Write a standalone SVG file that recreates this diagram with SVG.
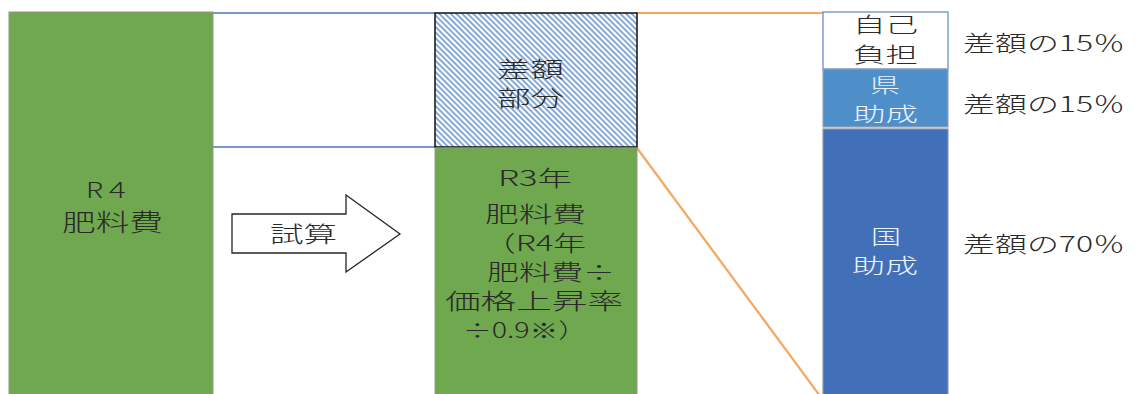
<svg xmlns="http://www.w3.org/2000/svg" width="1139" height="394" viewBox="0 0 1139 394">
<defs>
<pattern id="hatch" patternUnits="userSpaceOnUse" width="4" height="4" patternTransform="rotate(-45)">
<rect width="4" height="4" fill="#ffffff"/>
<rect width="2" height="4" fill="#86aad6"/>
</pattern>
<style>
.t{font-family:"Noto Sans CJK JP","Noto Sans",sans-serif;fill:#2a2a2a;font-weight:300}
.w{fill:#eaf1fa}
.green{fill:#70a850;stroke:#8c9a84;stroke-width:1}
</style>
</defs>
<rect width="1139" height="394" fill="#ffffff"/>
<g id="connectors" fill="none">
<line x1="213" y1="13" x2="435" y2="13" stroke="#4a74b8" stroke-width="1.5"/>
<line x1="213" y1="147" x2="435" y2="147" stroke="#4a74b8" stroke-width="1.5"/>
<line x1="637" y1="13" x2="823" y2="13" stroke="#f4a75e" stroke-width="2.2"/>
<line x1="637" y1="148" x2="820" y2="396" stroke="#f4a75e" stroke-width="2.2"/>
</g>
<g id="r4">
<rect class="green" x="9" y="12" width="204" height="390"/>
<text class="t" x="86" y="198" font-size="22" textLength="45" lengthAdjust="spacingAndGlyphs">R４</text>
<text class="t" x="62" y="231" font-size="24" textLength="101" lengthAdjust="spacingAndGlyphs">肥料費</text>
</g>
<g id="arrow">
<path d="M232,214 H346 V195 L400,234 L346,272 V253 H232 Z" fill="#ffffff" stroke="#262626" stroke-width="1.3"/>
<text class="t" x="270" y="242" font-size="22" textLength="67" lengthAdjust="spacingAndGlyphs">試算</text>
</g>
<g id="diff">
<rect x="435" y="13" width="202" height="134" fill="url(#hatch)" stroke="#111111" stroke-width="1.5"/>
<text class="t" x="497" y="77" font-size="22" textLength="67" lengthAdjust="spacingAndGlyphs">差額</text>
<text class="t" x="497" y="106" font-size="22" textLength="67" lengthAdjust="spacingAndGlyphs">部分</text>
</g>
<g id="r3">
<rect class="green" x="435" y="148" width="202" height="254"/>
<text class="t" x="498" y="186" font-size="22" textLength="74" lengthAdjust="spacingAndGlyphs">R3年</text>
<text class="t" x="485" y="222" font-size="22" textLength="101" lengthAdjust="spacingAndGlyphs">肥料費</text>
<text class="t" x="483" y="251" font-size="22" textLength="103" lengthAdjust="spacingAndGlyphs">（R4年</text>
<text class="t" x="487" y="280" font-size="22" textLength="128" lengthAdjust="spacingAndGlyphs">肥料費÷</text>
<text class="t" x="445" y="309" font-size="22" textLength="178" lengthAdjust="spacingAndGlyphs">価格上昇率</text>
<text class="t" x="463" y="338" font-size="21" textLength="124" lengthAdjust="spacingAndGlyphs">÷0.9※）</text>
</g>
<g id="self">
<rect x="823" y="12" width="125" height="57" fill="#ffffff" stroke="#5b85c5" stroke-width="1.2"/>
<text class="t" x="853" y="32" font-size="21" textLength="65" lengthAdjust="spacingAndGlyphs">自己</text>
<text class="t" x="853" y="62" font-size="21" textLength="65" lengthAdjust="spacingAndGlyphs">負担</text>
</g>
<g id="pref">
<rect x="823" y="69" width="125" height="58" fill="#4e8fc9" stroke="#9aa4ae" stroke-width="1.2"/>
<text class="t w" x="870" y="93" font-size="20" textLength="30" lengthAdjust="spacingAndGlyphs">県</text>
<text class="t w" x="853" y="122" font-size="20" textLength="65" lengthAdjust="spacingAndGlyphs">助成</text>
</g>
<g id="nation">
<rect x="823" y="129" width="125" height="273" fill="#4170b8" stroke="#8d96a3" stroke-width="1.2"/>
<text class="t w" x="871" y="244" font-size="21" textLength="30" lengthAdjust="spacingAndGlyphs">国</text>
<text class="t w" x="852" y="273" font-size="21" textLength="66" lengthAdjust="spacingAndGlyphs">助成</text>
</g>
<g id="labels">
<text class="t" x="963" y="51" font-size="22" textLength="162" lengthAdjust="spacingAndGlyphs">差額の15％</text>
<text class="t" x="963" y="112" font-size="22" textLength="162" lengthAdjust="spacingAndGlyphs">差額の15％</text>
<text class="t" x="963" y="252" font-size="22" textLength="162" lengthAdjust="spacingAndGlyphs">差額の70％</text>
</g>
</svg>
